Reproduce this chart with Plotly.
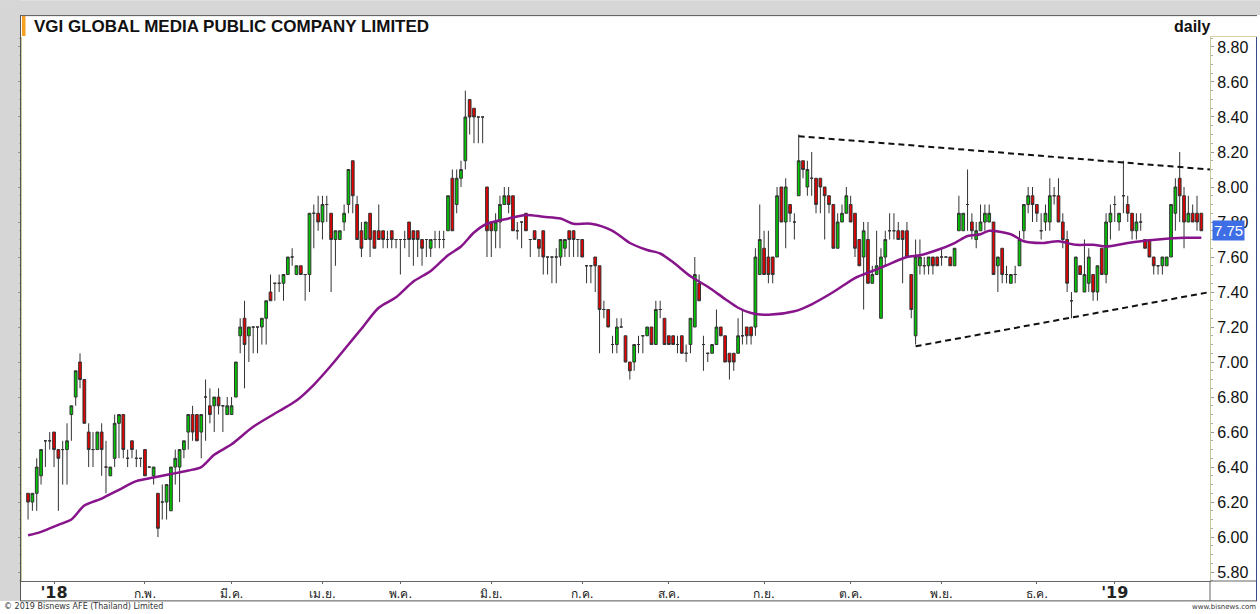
import plotly.graph_objects as go

# ---------------- data ----------------
opens = [
    6.25, 6.20, 6.25, 6.35, 6.55, 6.55, 6.60, 6.50, 6.50, 6.50,
    6.70, 6.80, 7.00, 6.90, 6.60, 6.50, 6.50, 6.60, 6.40, 6.35,
    6.45, 6.65, 6.70, 6.45, 6.55, 6.45, 6.45, 6.50, 6.40, 6.35,
    6.25, 6.20, 6.20, 6.15, 6.40, 6.40, 6.50, 6.60, 6.70, 6.70,
    6.60, 6.80, 6.75, 6.75, 6.80, 6.75, 6.70, 6.70, 6.80, 7.15,
    7.25, 7.15, 7.20, 7.20, 7.20, 7.25, 7.40, 7.45, 7.45, 7.45,
    7.50, 7.60, 7.50, 7.55, 7.50, 7.50, 7.85, 7.85, 7.80, 7.90,
    7.85, 7.70, 7.70, 7.80, 7.90, 8.15, 7.90, 7.75, 7.70, 7.85,
    7.75, 7.75, 7.75, 7.70, 7.75, 7.70, 7.70, 7.70, 7.80, 7.75,
    7.75, 7.70, 7.70, 7.65, 7.70, 7.70, 7.70, 7.75, 8.05, 7.90,
    8.05, 8.15, 8.50, 8.45, 8.40, 8.40, 8.00, 7.80, 7.75, 7.80,
    7.90, 7.95, 7.95, 7.75, 7.80, 7.85, 7.70, 7.75, 7.70, 7.75,
    7.60, 7.60, 7.60, 7.60, 7.65, 7.75, 7.75, 7.70, 7.70, 7.55,
    7.55, 7.60, 7.55, 7.30, 7.30, 7.10, 7.10, 7.20, 7.15, 7.00,
    7.00, 7.10, 7.15, 7.15, 7.20, 7.10, 7.30, 7.25, 7.15, 7.15,
    7.10, 7.15, 7.05, 7.10, 7.20, 7.45, 7.10, 7.05, 7.05, 7.10,
    7.20, 7.15, 7.05, 7.05, 7.05, 7.15, 7.20, 7.20, 7.20, 7.50,
    7.65, 7.60, 7.60, 7.60, 8.00, 7.80, 7.90, 7.80, 7.95, 8.15,
    8.00, 8.05, 8.05, 8.05, 8.00, 7.95, 7.90, 7.65, 7.80, 7.85,
    7.90, 7.85, 7.70, 7.60, 7.70, 7.45, 7.50, 7.25, 7.60, 7.75,
    7.75, 7.75, 7.75, 7.75, 7.50, 7.15, 7.55, 7.55, 7.55, 7.60,
    7.60, 7.60, 7.60, 7.60, 7.55, 7.75, 7.75, 7.90, 7.80, 7.70,
    7.75, 7.80, 7.80, 7.80, 7.55, 7.65, 7.50, 7.45, 7.50, 7.55,
    7.75, 7.90, 7.95, 7.90, 7.75, 7.80, 7.80, 7.95, 7.95, 7.80,
    7.70, 7.35, 7.40, 7.55, 7.40, 7.45, 7.50, 7.40, 7.65, 7.50,
    7.80, 7.90, 7.80, 7.95, 7.90, 7.85, 7.75, 7.80, 7.70, 7.70,
    7.60, 7.55, 7.55, 7.55, 7.60, 7.85, 8.05, 7.95, 7.80, 7.85,
    7.85, 7.85,
]
highs = [
    6.25, 6.25, 6.45, 6.50, 6.55, 6.60, 6.60, 6.50, 6.55, 6.65,
    6.75, 6.95, 7.05, 6.90, 6.65, 6.60, 6.60, 6.65, 6.55, 6.40,
    6.70, 6.70, 6.70, 6.50, 6.55, 6.50, 6.45, 6.50, 6.40, 6.40,
    6.25, 6.30, 6.30, 6.40, 6.50, 6.50, 6.55, 6.70, 6.75, 6.70,
    6.70, 6.90, 6.85, 6.80, 6.85, 6.75, 6.80, 6.80, 7.00, 7.25,
    7.35, 7.20, 7.20, 7.20, 7.25, 7.35, 7.50, 7.45, 7.50, 7.50,
    7.60, 7.65, 7.55, 7.55, 7.50, 7.85, 7.90, 7.95, 7.95, 7.95,
    7.85, 7.75, 7.75, 7.90, 8.10, 8.15, 7.95, 7.80, 7.80, 7.85,
    7.75, 7.90, 7.75, 7.75, 7.75, 7.70, 7.70, 7.75, 7.80, 7.75,
    7.75, 7.70, 7.70, 7.70, 7.75, 7.75, 7.75, 7.95, 8.10, 8.10,
    8.15, 8.55, 8.50, 8.45, 8.40, 8.40, 8.00, 7.80, 7.85, 7.95,
    8.00, 8.00, 7.95, 7.80, 7.80, 7.85, 7.70, 7.75, 7.70, 7.75,
    7.60, 7.60, 7.65, 7.70, 7.70, 7.75, 7.75, 7.70, 7.70, 7.55,
    7.55, 7.60, 7.55, 7.35, 7.30, 7.15, 7.25, 7.25, 7.15, 7.00,
    7.10, 7.15, 7.15, 7.20, 7.20, 7.35, 7.35, 7.25, 7.15, 7.15,
    7.15, 7.15, 7.10, 7.25, 7.60, 7.50, 7.15, 7.05, 7.10, 7.30,
    7.20, 7.15, 7.05, 7.05, 7.25, 7.30, 7.20, 7.20, 7.65, 7.90,
    7.75, 7.75, 7.60, 8.00, 8.00, 8.05, 7.90, 7.85, 8.30, 8.15,
    8.15, 8.20, 8.05, 8.05, 8.00, 7.95, 7.90, 7.85, 7.90, 8.00,
    7.95, 7.85, 7.70, 7.80, 7.80, 7.55, 7.75, 7.65, 7.75, 7.85,
    7.85, 7.80, 7.75, 7.80, 7.50, 7.70, 7.70, 7.60, 7.60, 7.60,
    7.60, 7.65, 7.60, 7.60, 7.65, 7.95, 7.85, 8.10, 7.85, 7.80,
    7.90, 7.90, 7.90, 7.80, 7.60, 7.65, 7.55, 7.50, 7.55, 7.75,
    7.90, 8.00, 8.00, 7.90, 7.85, 7.90, 8.05, 8.00, 8.05, 7.85,
    7.75, 7.40, 7.60, 7.55, 7.70, 7.65, 7.50, 7.55, 7.65, 7.85,
    7.90, 7.95, 7.85, 8.15, 7.95, 7.85, 7.85, 7.85, 7.70, 7.70,
    7.60, 7.55, 7.60, 7.60, 7.90, 8.05, 8.20, 8.00, 7.95, 7.90,
    7.95, 7.85,
]
lows = [
    6.10, 6.15, 6.15, 6.30, 6.40, 6.50, 6.40, 6.15, 6.30, 6.30,
    6.55, 6.75, 6.85, 6.65, 6.40, 6.40, 6.50, 6.35, 6.25, 6.35,
    6.40, 6.45, 6.45, 6.40, 6.45, 6.40, 6.40, 6.35, 6.40, 6.30,
    6.00, 6.10, 6.10, 6.15, 6.30, 6.20, 6.45, 6.50, 6.55, 6.55,
    6.45, 6.55, 6.65, 6.60, 6.70, 6.60, 6.70, 6.70, 6.80, 7.05,
    6.85, 7.00, 7.05, 7.05, 7.10, 7.10, 7.35, 7.35, 7.40, 7.35,
    7.50, 7.55, 7.50, 7.50, 7.35, 7.40, 7.65, 7.75, 7.70, 7.80,
    7.40, 7.55, 7.70, 7.75, 7.85, 7.85, 7.70, 7.60, 7.70, 7.60,
    7.65, 7.70, 7.65, 7.65, 7.65, 7.65, 7.50, 7.65, 7.60, 7.55,
    7.60, 7.55, 7.60, 7.60, 7.65, 7.65, 7.65, 7.75, 7.75, 7.85,
    8.00, 8.10, 8.30, 8.25, 8.25, 8.25, 7.60, 7.60, 7.65, 7.65,
    7.90, 7.85, 7.75, 7.70, 7.65, 7.75, 7.60, 7.70, 7.60, 7.50,
    7.50, 7.45, 7.45, 7.55, 7.60, 7.60, 7.60, 7.60, 7.60, 7.45,
    7.45, 7.40, 7.05, 7.25, 7.20, 7.05, 7.05, 7.20, 7.00, 6.90,
    6.95, 7.05, 7.05, 7.15, 7.10, 7.10, 7.25, 7.10, 7.10, 7.10,
    7.05, 7.05, 7.00, 7.05, 7.20, 7.35, 6.95, 7.00, 7.05, 7.10,
    7.15, 7.00, 6.90, 6.95, 7.05, 7.10, 7.10, 7.10, 7.15, 7.50,
    7.50, 7.45, 7.45, 7.60, 7.80, 7.65, 7.80, 7.70, 7.95, 8.05,
    7.95, 7.95, 7.85, 7.85, 7.70, 7.85, 7.65, 7.65, 7.80, 7.85,
    7.80, 7.60, 7.55, 7.30, 7.45, 7.45, 7.50, 7.25, 7.55, 7.70,
    7.70, 7.70, 7.45, 7.60, 7.25, 7.10, 7.50, 7.50, 7.50, 7.50,
    7.55, 7.55, 7.60, 7.55, 7.55, 7.75, 7.75, 7.75, 7.70, 7.65,
    7.75, 7.75, 7.80, 7.50, 7.40, 7.45, 7.45, 7.45, 7.45, 7.55,
    7.70, 7.85, 7.80, 7.80, 7.70, 7.75, 7.75, 7.90, 7.80, 7.65,
    7.40, 7.25, 7.40, 7.50, 7.40, 7.40, 7.35, 7.35, 7.50, 7.45,
    7.70, 7.80, 7.75, 7.85, 7.80, 7.70, 7.70, 7.75, 7.65, 7.60,
    7.50, 7.50, 7.50, 7.55, 7.60, 7.75, 7.80, 7.65, 7.80, 7.80,
    7.75, 7.75,
]
closes = [
    6.20, 6.25, 6.40, 6.50, 6.55, 6.55, 6.50, 6.45, 6.50, 6.55,
    6.75, 6.95, 6.90, 6.65, 6.50, 6.50, 6.60, 6.50, 6.40, 6.40,
    6.65, 6.70, 6.50, 6.45, 6.50, 6.45, 6.45, 6.35, 6.40, 6.40,
    6.05, 6.20, 6.30, 6.40, 6.45, 6.50, 6.55, 6.70, 6.60, 6.55,
    6.70, 6.80, 6.70, 6.80, 6.75, 6.75, 6.75, 6.75, 7.00, 7.20,
    7.10, 7.20, 7.20, 7.20, 7.25, 7.35, 7.35, 7.45, 7.45, 7.50,
    7.60, 7.60, 7.55, 7.50, 7.50, 7.85, 7.85, 7.80, 7.90, 7.90,
    7.70, 7.75, 7.75, 7.85, 8.10, 7.95, 7.70, 7.65, 7.80, 7.70,
    7.65, 7.70, 7.70, 7.70, 7.70, 7.70, 7.70, 7.70, 7.70, 7.70,
    7.70, 7.65, 7.70, 7.70, 7.70, 7.70, 7.70, 7.95, 7.75, 8.05,
    8.10, 8.40, 8.40, 8.40, 8.40, 8.40, 7.75, 7.75, 7.80, 7.90,
    7.95, 7.90, 7.75, 7.75, 7.80, 7.75, 7.70, 7.70, 7.65, 7.60,
    7.60, 7.60, 7.60, 7.70, 7.70, 7.70, 7.70, 7.70, 7.60, 7.55,
    7.55, 7.55, 7.30, 7.30, 7.20, 7.10, 7.20, 7.20, 7.00, 6.95,
    7.10, 7.10, 7.15, 7.20, 7.10, 7.30, 7.30, 7.10, 7.10, 7.10,
    7.10, 7.05, 7.05, 7.25, 7.50, 7.35, 7.10, 7.05, 7.10, 7.20,
    7.15, 7.00, 7.00, 7.00, 7.15, 7.15, 7.15, 7.15, 7.60, 7.70,
    7.50, 7.50, 7.50, 7.95, 7.80, 8.00, 7.85, 7.80, 8.15, 8.10,
    8.10, 8.05, 7.90, 8.00, 7.95, 7.90, 7.65, 7.80, 7.85, 7.95,
    7.80, 7.65, 7.55, 7.75, 7.45, 7.50, 7.55, 7.60, 7.70, 7.75,
    7.75, 7.70, 7.70, 7.60, 7.30, 7.60, 7.60, 7.55, 7.60, 7.55,
    7.55, 7.60, 7.60, 7.55, 7.65, 7.85, 7.85, 7.90, 7.75, 7.75,
    7.80, 7.85, 7.85, 7.50, 7.60, 7.50, 7.50, 7.50, 7.50, 7.70,
    7.90, 7.95, 7.90, 7.85, 7.75, 7.85, 7.95, 7.95, 7.80, 7.70,
    7.45, 7.35, 7.60, 7.50, 7.50, 7.60, 7.40, 7.55, 7.50, 7.80,
    7.85, 7.90, 7.85, 7.95, 7.85, 7.75, 7.80, 7.80, 7.65, 7.60,
    7.55, 7.55, 7.60, 7.60, 7.90, 8.00, 7.95, 7.80, 7.85, 7.80,
    7.80, 7.75,
]

# moving-average line, read at sample candles
ma_idx = [0, 3, 7, 10, 13, 17, 21, 25, 29, 33, 37, 40, 43, 47, 52, 58, 62, 66, 70,
          74, 77, 81, 85, 89, 93, 97, 100, 103, 106, 111, 115, 119, 123, 126, 130,
          135, 139, 143, 146, 149, 153, 157, 161, 164, 167, 171, 177, 181, 186, 191,
          194, 198, 203, 206, 210, 214, 217, 220, 222, 227, 230, 234, 238, 242, 246,
          249, 254, 257, 261, 267, 271]
ma_val = [6.01, 6.03, 6.07, 6.10, 6.18, 6.22, 6.27, 6.32, 6.34, 6.36, 6.38, 6.40,
          6.47, 6.53, 6.63, 6.72, 6.78, 6.87, 6.98, 7.10, 7.19, 7.31, 7.37, 7.46,
          7.52, 7.61, 7.66, 7.74, 7.79, 7.82, 7.84, 7.83, 7.82, 7.79, 7.79, 7.75,
          7.68, 7.64, 7.62, 7.57, 7.49, 7.43, 7.36, 7.31, 7.28, 7.27, 7.29, 7.33,
          7.40, 7.48, 7.51, 7.55, 7.60, 7.61, 7.64, 7.68, 7.72, 7.73, 7.75, 7.73,
          7.69, 7.68, 7.69, 7.67, 7.67, 7.66, 7.68, 7.69, 7.70, 7.71, 7.71]

# trend lines (candle index, price)
upper_x = [178, 273]
upper_y = [8.29, 8.10]
lower_x = [205, 273]
lower_y = [7.09, 7.40]

# month ticks: candles per month (Dec-17 tail, Jan..Dec 2018)
month_counts = [6, 21, 20, 21, 18, 21, 21, 20, 22, 20, 21, 22, 18]
month_labels = ["'18", "ก.พ.", "มี.ค.", "เม.ย.", "พ.ค.", "มิ.ย.", "ก.ค.", "ส.ค.",
                "ก.ย.", "ต.ค.", "พ.ย.", "ธ.ค.", "'19"]
last_price = 7.75
title_text = "VGI GLOBAL MEDIA PUBLIC COMPANY LIMITED"

# ---------------- figure ----------------
W, H = 1260, 614
L, R, T, B = 22, 50, 37, 30
PW, PH = W - L - R, H - T - B


def px(x):  # pixel -> paper x
    return (x - L) / PW


def py(y):  # pixel -> paper y
    return (H - B - y) / PH


idx = list(range(len(closes)))
tickvals = [month_counts[0]]
for c in month_counts[1:]:
    tickvals.append(tickvals[-1] + c)
ticktext = []
for lab in month_labels:
    if lab.startswith("'"):
        ticktext.append("<span style='font-size:16px;font-weight:bold'>" + lab + "</span>")
    else:
        ticktext.append(lab)

fig = go.Figure()
fig.add_trace(go.Candlestick(
    x=idx, open=opens, high=highs, low=lows, close=closes,
    increasing=dict(fillcolor="#00c400", line=dict(color="#333333", width=1)),
    decreasing=dict(fillcolor="#e40000", line=dict(color="#333333", width=1)),
    whiskerwidth=0, showlegend=False, hoverinfo="skip"))
fig.add_trace(go.Scatter(x=ma_idx, y=ma_val, mode="lines",
                         line=dict(color="#87148a", width=2.5, shape="spline", smoothing=0.8),
                         showlegend=False, hoverinfo="skip"))
for xs, ys in ((upper_x, upper_y), (lower_x, lower_y)):
    fig.add_trace(go.Scatter(x=xs, y=ys, mode="lines",
                             line=dict(color="#111111", width=2, dash="6px,4px"),
                             showlegend=False, hoverinfo="skip"))

yt = [round(5.8 + 0.2 * k, 2) for k in range(16)]
fig.update_layout(
    width=W, height=H, margin=dict(l=L, r=R, t=T, b=B, pad=0),
    paper_bgcolor="white", plot_bgcolor="white", boxgap=0.1,
    font=dict(family="Arial, 'Liberation Sans', sans-serif", color="#000"),
    xaxis=dict(range=[-1.4, 273], tickvals=tickvals, ticktext=ticktext,
               tickfont=dict(size=12, family="Tahoma, 'DejaVu Sans', 'Noto Sans', sans-serif", color="#222"),
               ticks="outside", ticklen=2, tickcolor="#666", showgrid=False, zeroline=False,
               showline=True, linecolor="#666", linewidth=1, rangeslider=dict(visible=False),
               fixedrange=True),
    yaxis=dict(side="right", range=[5.749, 8.857], tickvals=yt, ticktext=["%.2f" % v for v in yt],
               tickfont=dict(size=16, color="#111"), ticks="outside", ticklen=3, tickcolor="#999",
               minor=dict(dtick=0.05, ticks="outside", ticklen=2, tickcolor="#aaa"),
               showgrid=False, zeroline=False, showline=True, linecolor="#c8c8a0", linewidth=1,
               mirror="ticks", fixedrange=True),
)

grey = "#d6d6d6"
shapes = [
    dict(type="rect", xref="paper", yref="paper", x0=px(0), x1=px(W), y0=py(15), y1=py(0),
         fillcolor=grey, line_width=0, layer="below"),
    dict(type="rect", xref="paper", yref="paper", x0=px(0), x1=px(20), y0=py(604), y1=py(0),
         fillcolor=grey, line_width=0, layer="below"),
    dict(type="rect", xref="paper", yref="paper", x0=px(22), x1=px(25.5), y0=py(36), y1=py(16),
         fillcolor="#f4a020", line_width=0),
    # frame lines
    dict(type="line", xref="paper", yref="paper", x0=px(20), x1=px(1257), y0=py(15.5), y1=py(15.5),
         line=dict(color="#555", width=1)),
    dict(type="line", xref="paper", yref="paper", x0=px(20.5), x1=px(20.5), y0=py(15), y1=py(604),
         line=dict(color="#555", width=1)),
    dict(type="line", xref="paper", yref="paper", x0=px(20), x1=px(1257), y0=py(604), y1=py(604),
         line=dict(color="#555", width=1)),
    dict(type="line", xref="paper", yref="paper", x0=px(1210), x1=px(1257), y0=0, y1=0,
         line=dict(color="#666", width=1)),
    dict(type="line", xref="paper", yref="paper", x0=1, x1=1, y0=py(604), y1=0,
         line=dict(color="#666", width=1)),
    dict(type="line", xref="paper", yref="paper", x0=px(1256.5), x1=px(1256.5), y0=py(604), y1=py(36),
         line=dict(color="#3a4a8a", width=1)),
    dict(type="line", xref="paper", yref="paper", x0=1, x1=px(1257), y0=py(36.5), y1=py(36.5),
         line=dict(color="#d8d0a0", width=1)),
]
fig.update_layout(shapes=shapes)

annotations = [
    dict(xref="paper", yref="paper", x=px(32), y=py(26), xanchor="left", yanchor="middle",
         text="<b>" + title_text + "</b>", showarrow=False,
         font=dict(size=17, color="#111", family="Arial, 'Liberation Sans', sans-serif")),
    dict(xref="paper", yref="paper", x=px(1213), y=py(26), xanchor="right", yanchor="middle",
         text="<b>daily</b>", showarrow=False, font=dict(size=16, color="#111")),
    dict(xref="paper", yref="y", x=px(1212), y=last_price, xanchor="left", yanchor="middle",
         text="7.75", showarrow=False, bgcolor="#3d6ee6", borderpad=1,
         font=dict(size=15, color="white")),
    dict(xref="paper", yref="paper", x=px(2), y=py(609.5), xanchor="left", yanchor="middle",
         text="© 2019 Bisnews AFE (Thailand) Limited", showarrow=False,
         font=dict(size=8, color="#333", family="Tahoma, 'DejaVu Sans', sans-serif")),
    dict(xref="paper", yref="paper", x=px(1258), y=py(610), xanchor="right", yanchor="middle",
         text="www.bisnews.com", showarrow=False,
         font=dict(size=7, color="#333", family="Tahoma, 'DejaVu Sans', sans-serif")),
]
fig.update_layout(annotations=annotations)

fig.write_html("out.html", config={"displayModeBar": False},
               post_script="document.body.style.margin='0';document.body.style.padding='0';")
